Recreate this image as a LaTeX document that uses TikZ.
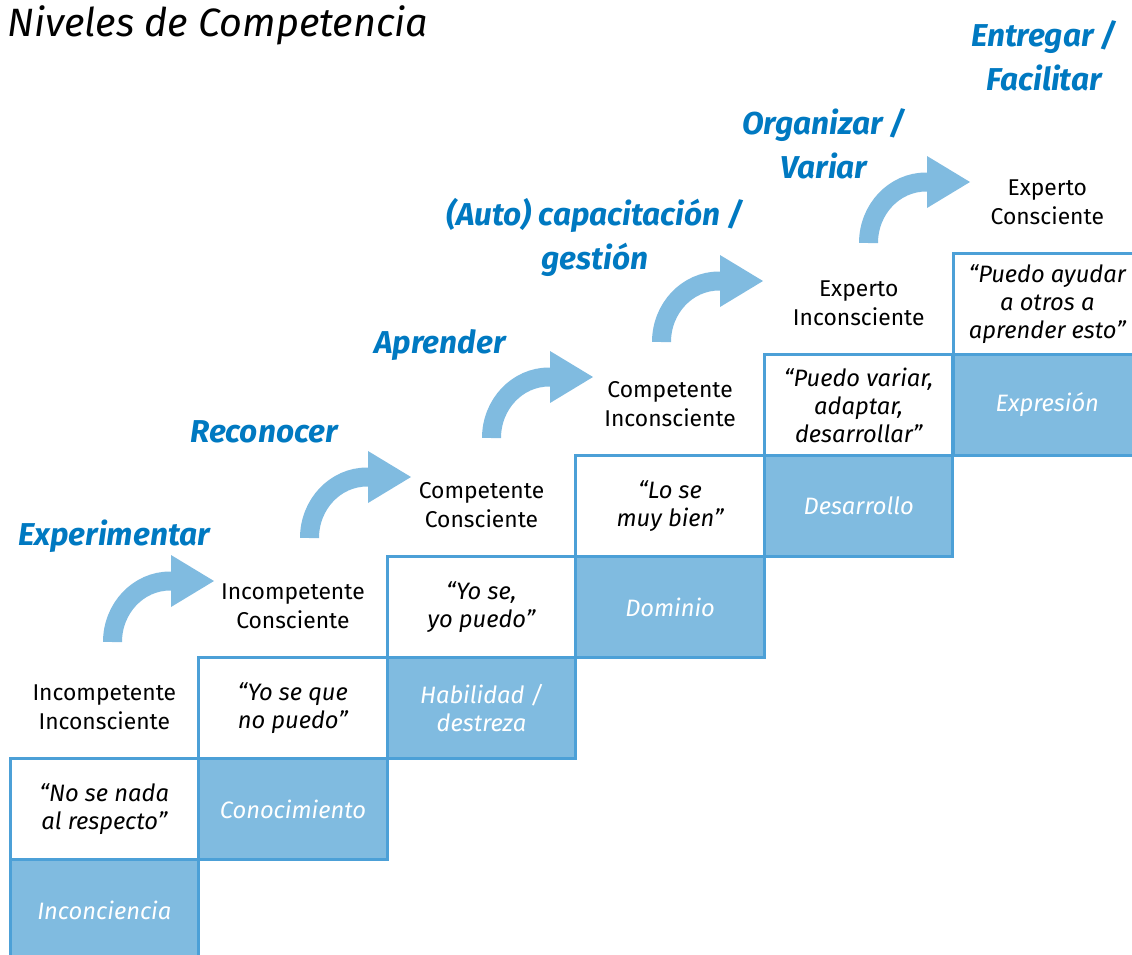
\documentclass[tikz,border=0pt]{standalone}
\usepackage{fontspec}
\setmainfont{Fira Sans}
\usetikzlibrary{arrows.meta}
\definecolor{stepfill}{RGB}{128,187,224}
\definecolor{stepline}{RGB}{76,160,215}
\definecolor{headblue}{RGB}{0,121,193}
\tikzset{
  saying/.style={draw=stepline, line width=0.06cm, fill=white, minimum width=3.772cm, minimum height=2.02cm, inner sep=0pt, align=center, font=\fontsize{13.5pt}{16pt}\selectfont\itshape},
  skillbox/.style={saying, fill=stepfill, text=white},
  levelnode/.style={align=center, inner sep=0pt, font=\fontsize{13pt}{16.5pt}\selectfont},
  stagehead/.style={align=center, inner sep=0pt, text=headblue, font=\fontsize{18pt}{25pt}\selectfont\bfseries\itshape},
  climbarrow/.style={draw=stepfill, line width=0.38cm, -{Triangle[length=0.86cm, width=1.04cm, line width=0pt]}}
}
\begin{document}
\begin{tikzpicture}[x=0.02cm, y=0.02cm]
\useasboundingbox (0,0) rectangle (1132,-954);
\node[anchor=base west, inner sep=0pt, font=\fontsize{22.5pt}{27pt}\selectfont\itshape](title) at (7,-36) {Niveles de Competencia};

\node[saying](q1) at (104.3,-809) {“No se nada\\al respecto”};
\node[skillbox](s1) at (104.3,-910) {Inconciencia};
\node[saying](q2) at (292.9,-708) {“Yo se que\\no puedo”};
\node[skillbox](s2) at (292.9,-809) {Conocimiento};
\node[saying](q3) at (481.5,-607) {“Yo se,\\yo puedo”};
\node[skillbox](s3) at (481.5,-708) {Habilidad /\\destreza};
\node[saying](q4) at (670.1,-506) {“Lo se\\muy bien”};
\node[skillbox](s4) at (670.1,-607) {Dominio};
\node[saying](q5) at (858.7,-405) {“Puedo variar,\\adaptar,\\desarrollar”};
\node[skillbox](s5) at (858.7,-506) {Desarrollo};
\node[saying](q6) at (1047.3,-304) {“Puedo ayudar\\a otros a\\aprender esto”};
\node[skillbox](s6) at (1047.3,-405) {Expresión};

\node[levelnode](lvl1) at (104.3,-707.5) {Incompetente\\Inconsciente};
\node[levelnode](lvl2) at (292.9,-606.5) {Incompetente\\Consciente};
\node[levelnode](lvl3) at (481.5,-505.5) {Competente\\Consciente};
\node[levelnode](lvl4) at (670.1,-404.5) {Competente\\Inconsciente};
\node[levelnode](lvl5) at (858.7,-303.5) {Experto\\Inconsciente};
\node[levelnode](lvl6) at (1047.3,-202.5) {Experto\\Consciente};

\node[stagehead, anchor=base](exp) at (114,-545) {Experimentar};
\node[stagehead, anchor=base](rec) at (264,-442) {Reconocer};
\node[stagehead, anchor=base](apr) at (440,-353) {Aprender};
\node[stagehead](auto) at (595,-237) {(Auto) capacitación /\\gestión};
\node[stagehead](org) at (824,-143.5) {Organizar /\\Variar};
\node[stagehead](ent) at (1044,-55.5) {Entregar /\\Facilitar};

\coordinate (a1) at (112.5,-642);
\coordinate (a2) at (309.5,-538);
\coordinate (a3) at (491.5,-438);
\coordinate (a4) at (661.5,-342);
\coordinate (a5) at (868.5,-243);
\draw[climbarrow] (a1) arc[start angle=180, end angle=90, x radius=57.5, y radius=61] -- ++(44,0);
\draw[climbarrow] (a2) arc[start angle=180, end angle=90, x radius=57.5, y radius=61] -- ++(44,0);
\draw[climbarrow] (a3) arc[start angle=180, end angle=90, x radius=57.5, y radius=61] -- ++(44,0);
\draw[climbarrow] (a4) arc[start angle=180, end angle=90, x radius=57.5, y radius=61] -- ++(44,0);
\draw[climbarrow] (a5) arc[start angle=180, end angle=90, x radius=57.5, y radius=61] -- ++(44,0);

\end{tikzpicture}
\end{document}
